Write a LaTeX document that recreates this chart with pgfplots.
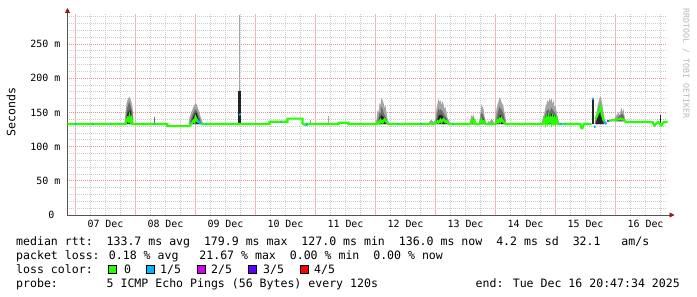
\documentclass[border=0pt]{standalone}
\usepackage{pgfplots}
\pgfplotsset{compat=1.18}
\usepackage{fontspec}
\setmainfont{DejaVu Sans Mono}
\usetikzlibrary{arrows.meta}
\definecolor{gridred}{HTML}{E29090}
\definecolor{gridredV}{HTML}{F4B4B4}
\definecolor{gridgray}{HTML}{CCCCCC}
\definecolor{axisgray}{HTML}{555555}
\definecolor{arrowred}{HTML}{8B1A1A}
\definecolor{lossA}{HTML}{26FF00}
\definecolor{lossB}{HTML}{00B8FF}
\definecolor{lossC}{HTML}{D400F0}
\definecolor{lossD}{HTML}{5E00FF}
\definecolor{lossE}{HTML}{FF0000}
\definecolor{smokeL}{HTML}{A4A4A4}
\definecolor{smokeM}{HTML}{6A6A6A}
\definecolor{smokeD}{HTML}{242424}
\begin{document}
\begin{tikzpicture}
\useasboundingbox (-67bp,-82bp) rectangle (630bp,215bp);
\begin{axis}[
  at={(0.5bp,0bp)}, anchor=south west,
  scale only axis, width=600bp, height=201bp,
  xmin=-3.2, xmax=236.8, ymin=0, ymax=294,
  axis x line*=bottom, axis y line*=left,
  axis line style={draw=axisgray, line width=0.8bp},
  x axis line style={-{Triangle[length=5bp,width=5bp,color=arrowred]}, shorten >=-7bp},
  y axis line style={-{Triangle[length=5bp,width=5bp,color=arrowred]}, shorten >=-6bp},
  tick style={draw=none},
  xtick={0,24,48,72,96,120,144,168,192,216},
  xticklabels={07 Dec,08 Dec,09 Dec,10 Dec,11 Dec,12 Dec,13 Dec,14 Dec,15 Dec,16 Dec},
  minor xtick={6,12,18,30,36,42,54,60,66,78,84,90,102,108,114,126,132,138,150,156,162,174,180,186,198,204,210,222,228,234},
  xmajorgrids=true, xminorgrids=true,
  ytick={0,50,100,150,200,250},
  yticklabels={0~~,50 m,100 m,150 m,200 m,250 m},
  minor ytick={10,20,30,40,60,70,80,90,110,120,130,140,160,170,180,190,210,220,230,240,260,270,280,290},
  ymajorgrids=true, yminorgrids=true,
  major grid style={draw=gridred, dash pattern=on 1bp off 1bp, line width=0.9bp},
  major x grid style={draw=gridredV, solid, line width=1bp},
  minor grid style={draw=gridgray, dash pattern=on 1bp off 1bp, line width=0.9bp},
  xticklabel style={font=\fontsize{10}{12}\selectfont, yshift=-2bp, xshift=30bp, text=black},
  yticklabel style={font=\fontsize{10}{12}\selectfont, inner sep=0bp, xshift=-7bp, text=black},
  unbounded coords=jump,
  clip=false,
]
% ---- smoke: light (max) ----
\addplot[fill=smokeL, draw=none] coordinates {(19.6,133) (20,150) (20.4,163) (20.8,168) (21.2,171) (21.6,173) (22,170) (22.4,165) (22.8,158) (23.2,140) (23.2,133)};
\addplot[fill=smokeL, draw=none] coordinates {(45.2,133) (45.6,142) (46.4,151) (47.2,158) (47.6,161) (48,163) (48.4,162) (48.8,158) (49.6,150) (50,144) (50.8,136) (50.8,133)};
\addplot[fill=smokeL, draw=none] coordinates {(120,133) (120.4,140) (120.8,153) (121.2,150) (121.6,164) (122,160) (122.4,172) (122.8,168) (123.2,164) (123.6,157) (124,160) (124.4,150) (124.8,140) (125.2,136) (125.2,133)};
\addplot[fill=smokeL, draw=none] coordinates {(141.2,133) (141.6,137) (142.4,139) (143.2,136) (144,140) (144.4,155) (144.8,163) (145.2,170) (145.6,165) (146,168) (146.4,160) (146.8,167) (147.2,162) (147.6,155) (148,158) (148.4,150) (148.8,142) (149.6,137) (150,133)};
\addplot[fill=smokeL, draw=none] coordinates {(157.6,133) (158,140) (158.4,146) (158.8,143) (159.2,147) (159.6,141) (160,137) (160.4,133)};
\addplot[fill=smokeL, draw=none] coordinates {(161.2,133) (161.6,140) (162,150) (162.4,162) (162.8,158) (163.2,155) (163.6,145) (164,138) (164.4,133)};
\addplot[fill=smokeL, draw=none] coordinates {(164.8,133) (165.2,138) (165.6,135) (166.4,141) (167.2,137) (167.6,133)};
\addplot[fill=smokeL, draw=none] coordinates {(167.6,133) (168,142) (168.4,155) (168.8,161) (169.2,166) (169.6,172) (170,170) (170.4,165) (170.8,162) (171.2,158) (171.6,150) (172,143) (172.4,133)};
\addplot[fill=smokeL, draw=none] coordinates {(186.4,133) (186.8,140) (187.6,150) (188,158) (188.4,162) (188.8,168) (189.2,164) (189.6,171) (190,166) (190.4,171) (190.8,162) (191.2,168) (191.6,158) (192,160) (192.4,152) (192.8,145) (193.2,138) (193.6,133)};
\addplot[fill=smokeL, draw=none] coordinates {(207.6,133) (208,142) (208.4,150) (208.8,158) (209.2,165) (209.6,170) (210,173) (210.4,168) (210.8,160) (211.2,150) (211.6,140) (212,133)};
\addplot[fill=smokeL, draw=none] coordinates {(215.2,137) (215.6,141) (216.4,146) (217.2,150) (217.6,145) (218,152) (218.4,157) (218.8,150) (219.2,155) (219.6,145) (220,137)};
\addplot[smokeL, line width=1.2bp] coordinates {(65.6,133) (65.6,292)};
\addplot[smokeM, line width=1bp] coordinates {(31.6,133) (31.6,144)};
\addplot[smokeL, line width=1bp] coordinates {(94,133) (94,139)};
\addplot[smokeL, line width=1bp] coordinates {(101.2,133) (101.2,145)};
% ---- smoke: middle ----
\addplot[fill=smokeM, draw=none] coordinates {(20,133) (20.4,150) (20.8,158) (21.2,162) (21.6,165) (22,160) (22.4,155) (22.8,145) (23,133)};
\addplot[fill=smokeM, draw=none] coordinates {(45.6,133) (46.4,142) (47.2,150) (48,155) (48.8,150) (49.6,142) (50.4,133)};
\addplot[fill=smokeM, draw=none] coordinates {(120.4,133) (121.2,142) (121.6,150) (122,148) (122.4,158) (122.8,155) (123.2,150) (123.6,146) (124.4,140) (125,133)};
\addplot[fill=smokeM, draw=none] coordinates {(144,133) (144.4,142) (144.8,150) (145.2,156) (145.6,152) (146,155) (146.8,152) (147.6,146) (148.4,142) (149.2,133)};
\addplot[fill=smokeM, draw=none] coordinates {(158,133) (158.4,140) (159.2,142) (160,133)};
\addplot[fill=smokeM, draw=none] coordinates {(161.6,133) (162.4,150) (162.8,148) (163.6,140) (164,133)};
\addplot[fill=smokeM, draw=none] coordinates {(168,133) (168.8,148) (169.6,158) (170.4,154) (171.2,148) (172,133)};
\addplot[fill=smokeM, draw=none] coordinates {(186.8,133) (187.6,142) (188.4,152) (189.2,155) (189.6,150) (190.4,157) (191.2,152) (192,148) (192.8,140) (193.4,133)};
\addplot[fill=smokeM, draw=none] coordinates {(207.8,133) (208.4,145) (209.2,155) (210,163) (210.4,155) (211.2,143) (211.6,133)};
\addplot[fill=smokeM, draw=none] coordinates {(216,137) (216.8,142) (217.6,145) (218.4,148) (219.2,146) (219.6,137)};
% ---- smoke: dark ----
\addplot[fill=smokeD, draw=none] coordinates {(20.2,133) (20.6,145) (21,152) (21.4,149) (21.8,155) (22.2,150) (22.6,142) (22.9,133)};
\addplot[fill=smokeD, draw=none] coordinates {(46,133) (46.8,140) (47.6,148) (48.4,150) (49.2,140) (50,133)};
\addplot[fill=smokeD, draw=none] coordinates {(120.8,133) (121.6,142) (122.4,146) (123.2,143) (124,140) (124.8,133)};
\addplot[fill=smokeD, draw=none] coordinates {(144.4,133) (145.2,145) (146,147) (146.8,145) (147.6,140) (148.8,133)};
\addplot[fill=smokeD, draw=none] coordinates {(158.2,133) (158.8,139) (159.6,138) (159.9,133)};
\addplot[fill=smokeD, draw=none] coordinates {(161.8,133) (162.4,142) (163.2,140) (163.8,133)};
\addplot[fill=smokeD, draw=none] coordinates {(168.4,133) (169.2,142) (170,147) (170.8,143) (171.6,133)};
\addplot[fill=smokeD, draw=none] coordinates {(187.2,133) (188,142) (188.8,147) (189.6,145) (190.4,148) (191.2,146) (192,143) (192.8,137) (193.2,133)};
\addplot[fill=smokeD, draw=none] coordinates {(208.2,133) (208.8,146) (209.6,152) (210.2,156) (210.8,146) (211.2,133)};
\addplot[fill=smokeD, draw=none] coordinates {(64.9,133) (64.9,181) (66.1,181) (66.1,133)};
\addplot[fill=smokeD, draw=none] coordinates {(206.4,133) (206.4,170) (207.4,170) (207.4,133)};
\addplot[smokeD, line width=1bp] coordinates {(233.9,133) (233.9,146)};
% ---- median rtt, loss 0 ----
\addplot[lossA, line width=2.2bp] coordinates {
 (-3.2,133) (20,133) (20.4,137) (20.8,141) (21.2,138) (21.6,144) (22,137) (22.4,141) (22.8,133)
 (36.7,133) (36.7,130) (45.6,130) (46.4,134) (47.2,138) (47.6,136) (48,143) (48.4,140) (48.8,137) (50.4,134) (51.2,133)
 (64.8,133) (66.4,133)
 (77.6,133) (77.6,136.4) (84.8,136.4) (84.8,141) (90.8,141) (90.8,134) (91.6,132) (92.4,133)
 (105.2,133) (105.2,135) (109.2,135) (109.2,133)
 (120.4,133) (121.2,136) (121.6,134) (122,139) (122.8,135) (123.2,138) (123.6,140) (124.4,136) (125.2,133)
 (141.2,133) (142,134) (142.8,133) (144,134) (144.8,137) (145.2,135) (146,139) (146.4,136) (147.2,140) (148,136) (148.4,137) (149.2,133)
 (158,133) (158.4,136) (158.8,139) (159.2,135) (159.6,137) (160,133)
 (161.6,133) (162,136) (162.4,139) (162.8,135) (163.2,137) (164,133)
 (168,133) (168.4,135) (168.8,138) (169.2,136) (169.6,140) (170,137) (170.4,141) (170.8,138) (171.2,136) (172,133)
 (186.8,133) (187.2,135) (187.6,139) (188,134) (188.4,141) (188.8,136) (189.2,143) (189.6,137) (190,141) (190.4,135) (190.8,142) (191.2,136) (191.6,141) (192,135) (192.4,140) (192.8,134) (193.6,133)
 (202,133) (202.4,127) (202.8,127) (203.2,133) (206.4,133)
 (nan,nan)
 (208,140) (209.2,150) (210.1,158) (210.5,147) (211.4,137)
 (nan,nan)
 (213.2,137) (213.6,138) (216,139) (218,141) (219.6,139) (220,136) (230.8,136) (231.6,131) (232.4,134) (233.2,136) (234.4,131) (235.2,136) (236.8,136)
};
% ---- loss 1/5 ----
\addplot[lossB, line width=2.2bp] coordinates {
 (0,133) (0.4,133) (nan,nan) (6.8,133) (7.2,133) (nan,nan) (14,133) (14.4,133) (nan,nan)
 (31.6,133) (32,133) (nan,nan) (48.8,137) (50.4,134) (nan,nan) (52,133) (52.4,133) (nan,nan)
 (65.6,148) (66,146) (nan,nan) (82,136.4) (82.4,136.4) (nan,nan) (92,132) (92.8,132) (nan,nan)
 (128.8,133) (129.2,133) (nan,nan) (138,133) (138.4,133) (nan,nan) (150.8,133) (151.2,133) (nan,nan)
 (193.6,133) (194.4,133) (nan,nan) (195.6,133) (196,133) (nan,nan)
 (206.6,170) (207.2,170) (nan,nan) (207.4,129) (208,129) (nan,nan) (211.4,137) (212.4,133)
};
% ---- loss 2/5 ----
\addplot[lossC, line width=2.2bp] coordinates {(212.4,137) (213.2,137)};
\end{axis}
% axis label and watermark
\node[rotate=90, font=\fontsize{11.6}{14}\selectfont] at (-56bp,103bp) {Seconds};
\node[rotate=-90, anchor=west, text=gridgray!90!black, font=\fontsize{8.3}{10}\selectfont] at (619bp,210bp) {RRDTOOL / TOBI OETIKER};
% legend
\begin{scope}[every node/.style={anchor=base west, inner sep=0pt, font=\fontsize{11.6}{14}\selectfont}]
\node at (-51bp,-30bp) {median rtt:~~133.7 ms avg~~179.9 ms max~~127.0 ms min~~136.0 ms now~~4.2 ms sd~~32.1~~~am/s};
\node at (-51bp,-44bp) {packet loss: 0.18 \% avg~~~21.67 \% max~~0.00 \% min~~0.00 \% now};
\node at (-51bp,-58bp) {loss color:};
\node at (-51bp,-72bp) {probe:~~~~~~~5 ICMP Echo Pings (56 Bytes) every 120s};
\node[anchor=base east] at (613bp,-72bp) {end: Tue Dec 16 20:47:34 2025};
\node at (57bp,-58bp) {0};
\node at (93bp,-58bp) {1/5};
\node at (144bp,-58bp) {2/5};
\node at (196bp,-58bp) {3/5};
\node at (247bp,-58bp) {4/5};
\end{scope}
\draw[fill=lossA, line width=0.8bp] (41bp,-58.5bp) rectangle (49bp,-50bp);
\draw[fill=lossB, line width=0.8bp] (79bp,-58.5bp) rectangle (87bp,-50bp);
\draw[fill=lossC, line width=0.8bp] (130bp,-58.5bp) rectangle (138bp,-50bp);
\draw[fill=lossD, line width=0.8bp] (181bp,-58.5bp) rectangle (189bp,-50bp);
\draw[fill=lossE, line width=0.8bp] (233bp,-58.5bp) rectangle (241bp,-50bp);
\end{tikzpicture}
\end{document}
